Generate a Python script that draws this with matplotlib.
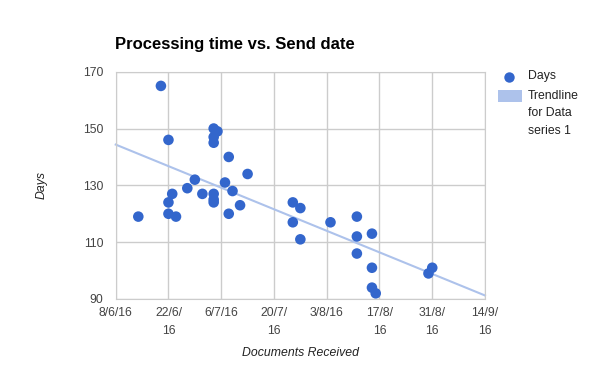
import matplotlib
matplotlib.use('Agg')
import matplotlib.pyplot as plt
import matplotlib.dates as mdates
from matplotlib.lines import Line2D
from matplotlib.patches import Rectangle
import numpy as np
import pandas as pd

plt.rcParams['font.family'] = ['Liberation Sans', 'DejaVu Sans']

# data
send_dates = ['2016-06-14', '2016-06-20', '2016-06-22', '2016-06-22', '2016-06-22',
              '2016-06-23', '2016-06-24', '2016-06-27', '2016-06-29', '2016-07-01',
              '2016-07-04', '2016-07-05', '2016-07-04', '2016-07-04', '2016-07-04',
              '2016-07-04', '2016-07-04', '2016-07-08', '2016-07-07', '2016-07-09',
              '2016-07-08', '2016-07-11', '2016-07-13', '2016-07-25', '2016-07-27',
              '2016-07-25', '2016-07-27', '2016-08-04', '2016-08-11', '2016-08-11',
              '2016-08-11', '2016-08-15', '2016-08-15', '2016-08-15', '2016-08-16',
              '2016-08-30', '2016-08-31']
days = [119, 165, 146, 124, 120, 127, 119, 129, 132, 127,
        150, 149, 147, 145, 127, 125, 124, 140, 131, 128,
        120, 123, 134, 124, 122, 117, 111, 117, 119, 112,
        106, 113, 101, 94, 92, 99, 101]

tick_dates = ['2016-06-08', '2016-06-22', '2016-07-06', '2016-07-20',
              '2016-08-03', '2016-08-17', '2016-08-31', '2016-09-14']
tick_labels = ['8/6/16', '22/6/\n16', '6/7/16', '20/7/\n16',
               '3/8/16', '17/8/\n16', '31/8/\n16', '14/9/\n16']
y_ticks = [90, 110, 130, 150, 170]

x = mdates.date2num(pd.to_datetime(send_dates))
xt = mdates.date2num(pd.to_datetime(tick_dates))

fig = plt.figure(figsize=(6, 3.71), dpi=100)
ax = fig.add_axes([115.7 / 600, 1 - 299 / 371, 369.3 / 600, 227.3 / 371])

# trendline (linear fit) over the whole axis range
k, b = np.polyfit(x, days, 1)
tx = np.array([xt[0], xt[-1]])
ax.plot(tx, k * tx + b, color='#adc2eb', lw=1.5, zorder=2, clip_on=False)

ax.scatter(x, days, s=58, color='#3366cc', edgecolors='none', zorder=3, clip_on=False)

ax.set_xlim(xt[0], xt[-1])
ax.set_ylim(90, 170)
ax.set_xticks(xt)
ax.set_xticklabels(tick_labels, linespacing=1.6)
ax.set_yticks(y_ticks)
ax.tick_params(length=0, labelsize=8.8, colors='#444444')
ax.tick_params(axis='x', pad=6)
ax.tick_params(axis='y', pad=9)
ax.grid(True, color='#cccccc', lw=1)
ax.set_axisbelow(True)
for s in ax.spines.values():
    s.set_color('#cccccc')

fig.text(115 / 600, 1 - 44 / 371, 'Processing time vs. Send date',
         fontsize=12, fontweight='bold', ha='left', va='center')
fig.text(42 / 600, 1 - 185 / 371, 'Days', rotation=90, style='italic',
         fontsize=8.8, color='#222222', ha='center', va='center')
fig.text(300 / 600, 1 - 353 / 371, 'Documents Received', style='italic',
         fontsize=8.8, color='#222222', ha='center', va='center')

# legend
fig.add_artist(Line2D([509.3 / 600], [1 - 76.7 / 371], marker='o', markersize=7.5,
                      color='#3366cc', markeredgewidth=0, transform=fig.transFigure))
fig.text(527.7 / 600, 1 - 76 / 371, 'Days', fontsize=8.8, color='#222222',
         ha='left', va='center')
fig.add_artist(Rectangle((497.7 / 600, 1 - 101.7 / 371), 24 / 600, 11.7 / 371,
                         color='#adc2eb', lw=0, transform=fig.transFigure))
for i, line in enumerate(['Trendline', 'for Data', 'series 1']):
    fig.text(527.7 / 600, 1 - (96 + 17.5 * i) / 371, line, fontsize=8.8,
             color='#222222', ha='left', va='center')

fig.savefig('out.png', dpi=100)
